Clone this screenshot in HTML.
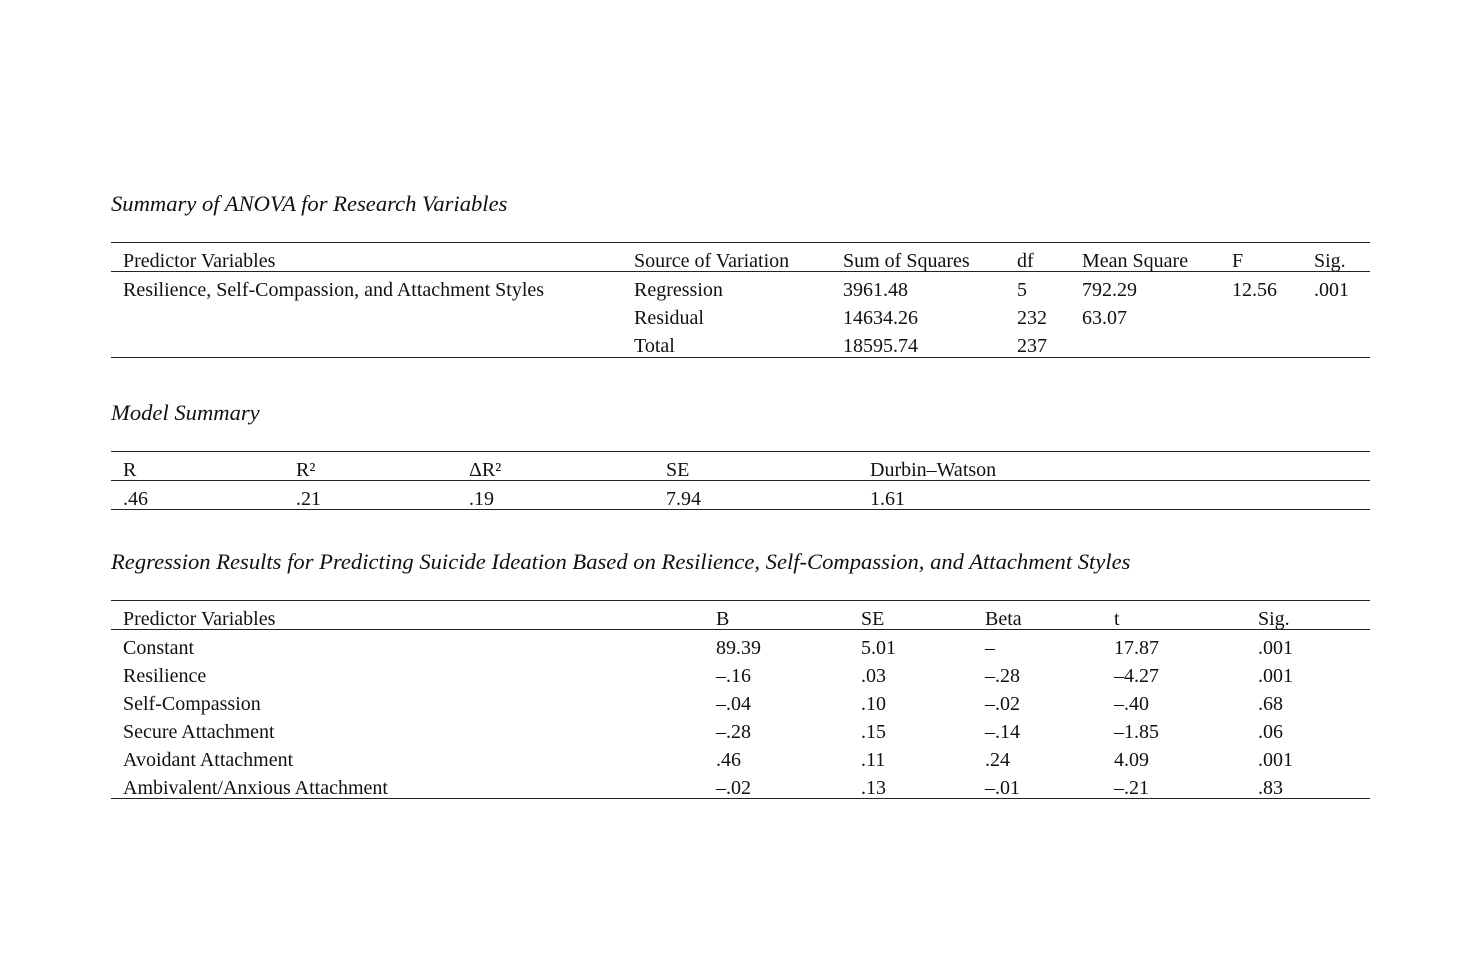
<!DOCTYPE html>
<html><head><meta charset="utf-8">
<style>
body{margin:0;background:#fff;width:1482px;height:961px;position:relative;font-family:"Liberation Serif",serif;color:#111;font-size:20px;}
.t{position:absolute;white-space:nowrap;line-height:22px;margin-top:1px;}
.i{font-style:italic;font-size:22.6px;}
.l{position:absolute;left:111px;width:1259px;height:1px;background:#222;}
</style></head><body>
<div class="t i" style="left:111px;top:192px">Summary of ANOVA for Research Variables</div>
<div class="l" style="top:242px"></div>
<div class="l" style="top:271px"></div>
<div class="l" style="top:357px"></div>
<div class="t" style="left:123px;top:249px">Predictor Variables</div>
<div class="t" style="left:634px;top:249px">Source of Variation</div>
<div class="t" style="left:843px;top:249px">Sum of Squares</div>
<div class="t" style="left:1017px;top:249px">df</div>
<div class="t" style="left:1082px;top:249px">Mean Square</div>
<div class="t" style="left:1232px;top:249px">F</div>
<div class="t" style="left:1314px;top:249px">Sig.</div>
<div class="t" style="left:123px;top:278px">Resilience, Self-Compassion, and Attachment Styles</div>
<div class="t" style="left:634px;top:278px">Regression</div>
<div class="t" style="left:843px;top:278px">3961.48</div>
<div class="t" style="left:1017px;top:278px">5</div>
<div class="t" style="left:1082px;top:278px">792.29</div>
<div class="t" style="left:1232px;top:278px">12.56</div>
<div class="t" style="left:1314px;top:278px">.001</div>
<div class="t" style="left:634px;top:306px">Residual</div>
<div class="t" style="left:843px;top:306px">14634.26</div>
<div class="t" style="left:1017px;top:306px">232</div>
<div class="t" style="left:1082px;top:306px">63.07</div>
<div class="t" style="left:634px;top:334px">Total</div>
<div class="t" style="left:843px;top:334px">18595.74</div>
<div class="t" style="left:1017px;top:334px">237</div>

<div class="t i" style="left:111px;top:401px">Model Summary</div>
<div class="l" style="top:451px"></div>
<div class="l" style="top:480px"></div>
<div class="l" style="top:509px"></div>
<div class="t" style="left:123px;top:458px">R</div>
<div class="t" style="left:296px;top:458px">R²</div>
<div class="t" style="left:469px;top:458px">ΔR²</div>
<div class="t" style="left:666px;top:458px">SE</div>
<div class="t" style="left:870px;top:458px">Durbin–Watson</div>
<div class="t" style="left:123px;top:487px">.46</div>
<div class="t" style="left:296px;top:487px">.21</div>
<div class="t" style="left:469px;top:487px">.19</div>
<div class="t" style="left:666px;top:487px">7.94</div>
<div class="t" style="left:870px;top:487px">1.61</div>

<div class="t i" style="left:111px;top:550px">Regression Results for Predicting Suicide Ideation Based on Resilience, Self-Compassion, and Attachment Styles</div>
<div class="l" style="top:600px"></div>
<div class="l" style="top:629px"></div>
<div class="l" style="top:798px"></div>
<div class="t" style="left:123px;top:607px">Predictor Variables</div>
<div class="t" style="left:716px;top:607px">B</div>
<div class="t" style="left:861px;top:607px">SE</div>
<div class="t" style="left:985px;top:607px">Beta</div>
<div class="t" style="left:1114px;top:607px">t</div>
<div class="t" style="left:1258px;top:607px">Sig.</div>

<div class="t" style="left:123px;top:636px">Constant</div>
<div class="t" style="left:716px;top:636px">89.39</div>
<div class="t" style="left:861px;top:636px">5.01</div>
<div class="t" style="left:985px;top:636px">–</div>
<div class="t" style="left:1114px;top:636px">17.87</div>
<div class="t" style="left:1258px;top:636px">.001</div>

<div class="t" style="left:123px;top:664px">Resilience</div>
<div class="t" style="left:716px;top:664px">–.16</div>
<div class="t" style="left:861px;top:664px">.03</div>
<div class="t" style="left:985px;top:664px">–.28</div>
<div class="t" style="left:1114px;top:664px">–4.27</div>
<div class="t" style="left:1258px;top:664px">.001</div>

<div class="t" style="left:123px;top:692px">Self-Compassion</div>
<div class="t" style="left:716px;top:692px">–.04</div>
<div class="t" style="left:861px;top:692px">.10</div>
<div class="t" style="left:985px;top:692px">–.02</div>
<div class="t" style="left:1114px;top:692px">–.40</div>
<div class="t" style="left:1258px;top:692px">.68</div>

<div class="t" style="left:123px;top:720px">Secure Attachment</div>
<div class="t" style="left:716px;top:720px">–.28</div>
<div class="t" style="left:861px;top:720px">.15</div>
<div class="t" style="left:985px;top:720px">–.14</div>
<div class="t" style="left:1114px;top:720px">–1.85</div>
<div class="t" style="left:1258px;top:720px">.06</div>

<div class="t" style="left:123px;top:748px">Avoidant Attachment</div>
<div class="t" style="left:716px;top:748px">.46</div>
<div class="t" style="left:861px;top:748px">.11</div>
<div class="t" style="left:985px;top:748px">.24</div>
<div class="t" style="left:1114px;top:748px">4.09</div>
<div class="t" style="left:1258px;top:748px">.001</div>

<div class="t" style="left:123px;top:776px">Ambivalent/Anxious Attachment</div>
<div class="t" style="left:716px;top:776px">–.02</div>
<div class="t" style="left:861px;top:776px">.13</div>
<div class="t" style="left:985px;top:776px">–.01</div>
<div class="t" style="left:1114px;top:776px">–.21</div>
<div class="t" style="left:1258px;top:776px">.83</div>
</body></html>
